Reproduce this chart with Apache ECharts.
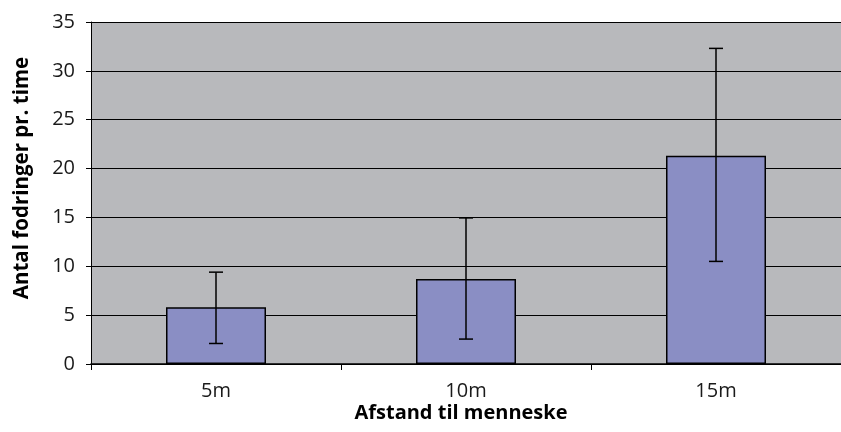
<!DOCTYPE html>
<html>
<head>
<meta charset="utf-8">
<script src="https://cdn.jsdelivr.net/npm/echarts@6/dist/echarts.min.js"></script>
<style>
html,body{margin:0;padding:0;background:#fff;}
#chart{width:841px;height:432px;}
</style>
</head>
<body>
<div id="chart"></div>
<script>
const categories = ['5m', '10m', '15m'];
const means = [5.8, 8.7, 21.3];
const errLow = [2.1, 2.55, 10.5];
const errHigh = [9.4, 14.95, 32.3];
const yTicks = { min: 0, max: 35, interval: 5 };
const xAxisTitle = 'Afstand til menneske';
const yAxisTitle = 'Antal fodringer pr. time';

const FONT = '"Open Sans", "Noto Sans", sans-serif';
const chart = echarts.init(document.getElementById('chart'));

const errData = categories.map((c, i) => [i, errLow[i], errHigh[i]]);

chart.setOption({
  animation: false,
  backgroundColor: '#ffffff',
  grid: { left: 91, right: -5, top: 22, bottom: 68, show: true, backgroundColor: '#b8b9bc', borderWidth: 0 },
  xAxis: {
    type: 'category',
    data: categories,
    axisLine: { show: true, lineStyle: { color: '#000', width: 1.5 } },
    axisTick: { show: true, length: 6, inside: false, lineStyle: { color: '#000' } },
    axisLabel: { color: '#1a1a1a', fontSize: 20, fontFamily: FONT, margin: 17 },
    splitLine: { show: false }
  },
  yAxis: {
    type: 'value',
    min: yTicks.min, max: yTicks.max, interval: yTicks.interval,
    axisLine: { show: true, lineStyle: { color: '#000', width: 1 } },
    axisTick: { show: true, length: 5, lineStyle: { color: '#000' } },
    axisLabel: { color: '#1a1a1a', fontSize: 20, fontFamily: FONT, margin: 16 },
    splitLine: { show: true, lineStyle: { color: '#000', width: 1 } }
  },
  graphic: [
    {
      type: 'text', x: 22, y: 178, rotation: Math.PI / 2,
      style: { text: yAxisTitle, font: 'bold 20.5px ' + FONT, fill: '#000', align: 'center', verticalAlign: 'middle' }
    },
    {
      type: 'text', x: 461, y: 413,
      style: { text: xAxisTitle, font: 'bold 20px ' + FONT, fill: '#000', align: 'center', verticalAlign: 'middle' }
    }
  ],
  series: [
    {
      type: 'bar',
      data: means,
      barWidth: '40%',
      itemStyle: { color: '#8a8ec4', borderColor: '#000', borderWidth: 1.5 },
      z: 2
    },
    {
      type: 'custom',
      data: errData,
      z: 5,
      renderItem: function (params, api) {
        const x = api.value(0);
        const lo = api.coord([x, api.value(1)]);
        const hi = api.coord([x, api.value(2)]);
        const hw = 7;
        const st = { stroke: '#000', lineWidth: 1.5 };
        return {
          type: 'group',
          children: [
            { type: 'line', shape: { x1: lo[0], y1: lo[1], x2: hi[0], y2: hi[1] }, style: st },
            { type: 'line', shape: { x1: hi[0] - hw, y1: hi[1], x2: hi[0] + hw, y2: hi[1] }, style: st },
            { type: 'line', shape: { x1: lo[0] - hw, y1: lo[1], x2: lo[0] + hw, y2: lo[1] }, style: st }
          ]
        };
      }
    }
  ]
});
</script>
</body>
</html>
